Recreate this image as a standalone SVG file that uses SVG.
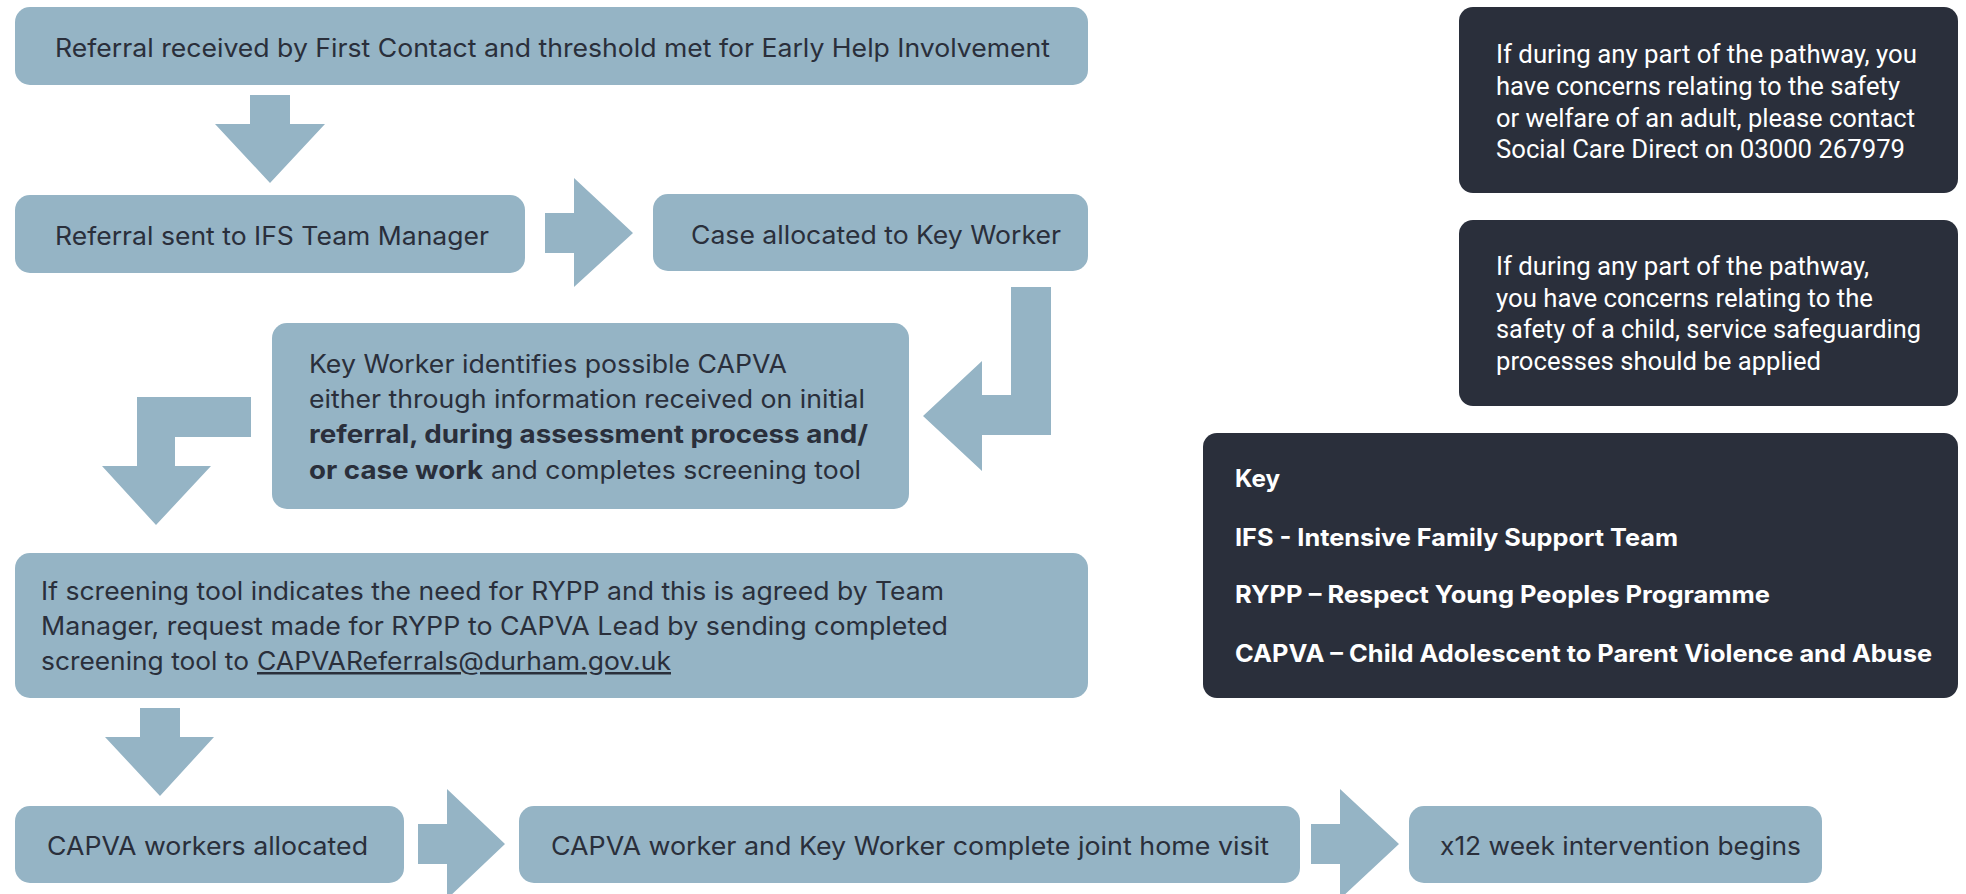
<svg xmlns="http://www.w3.org/2000/svg" width="1966" height="894" viewBox="0 0 1966 894">
  <style>
    .step { fill: #95b4c5; }
    .note { fill: #2a2f3b; }
    .arrow { fill: #95b4c5; }
    .t { font-family: Inter, Roboto, "Liberation Sans", sans-serif; font-size: 25px; fill: #2a2f3b; }
    .tn { font-family: Roboto, "Liberation Sans", sans-serif; font-size: 25px; fill: #ffffff; }
    .tk { font-family: Inter, Roboto, "Liberation Sans", sans-serif; font-size: 24px; font-weight: 700; fill: #ffffff; }
    .b { font-weight: 700; }
    .link { text-decoration: underline; }
  </style>

  <!-- block arrows between steps -->
  <g id="connectors">
    <polygon class="arrow" points="250,95 290,95 290,124 325,124 270,183 215,124 250,124"/>
    <polygon class="arrow" points="545,213 574,213 574,178 633,233 574,287 574,253 545,253"/>
    <polygon class="arrow" points="1011,287 1051,287 1051,435 982,435 982,471 923,416 982,361 982,395 1011,395"/>
    <polygon class="arrow" points="251,397 251,437 175,437 175,466 211,466 156,525 102,466 137,466 137,397"/>
    <polygon class="arrow" points="140,708 180,708 180,737 214,737 160,796 105,737 140,737"/>
    <polygon class="arrow" points="418,824 447,824 447,789 505,844 447,899 447,864 418,864"/>
    <polygon class="arrow" points="1311,824 1340,824 1340,789 1399,844 1340,899 1340,864 1311,864"/>
  </g>

  <g id="referral-received">
    <rect class="step" x="15" y="7" width="1073" height="78" rx="15"/>
    <text class="t" x="55" y="57" textLength="995" lengthAdjust="spacingAndGlyphs">Referral received by First Contact and threshold met for Early Help Involvement</text>
  </g>

  <g id="referral-sent">
    <rect class="step" x="15" y="195" width="510" height="78" rx="15"/>
    <text class="t" x="55" y="245" textLength="434" lengthAdjust="spacingAndGlyphs">Referral sent to IFS Team Manager</text>
  </g>

  <g id="case-allocated">
    <rect class="step" x="653" y="194" width="435" height="77" rx="15"/>
    <text class="t" x="691" y="244" textLength="370" lengthAdjust="spacingAndGlyphs">Case allocated to Key Worker</text>
  </g>

  <g id="key-worker-identifies">
    <rect class="step" x="272" y="323" width="637" height="186" rx="15"/>
    <text class="t" x="309" y="373" textLength="478" lengthAdjust="spacingAndGlyphs">Key Worker identifies possible CAPVA</text>
    <text class="t" x="309" y="408" textLength="556" lengthAdjust="spacingAndGlyphs">either through information received on initial</text>
    <text class="t b" x="309" y="443" textLength="559" lengthAdjust="spacingAndGlyphs">referral, during assessment process and/</text>
    <text class="t b" x="309" y="479" textLength="174" lengthAdjust="spacingAndGlyphs">or case work</text>
    <text class="t" x="491" y="479" textLength="370" lengthAdjust="spacingAndGlyphs">and completes screening tool</text>
  </g>

  <g id="screening-request">
    <rect class="step" x="15" y="553" width="1073" height="145" rx="15"/>
    <text class="t" x="41" y="600" textLength="903" lengthAdjust="spacingAndGlyphs">If screening tool indicates the need for RYPP and this is agreed by Team</text>
    <text class="t" x="41" y="635" textLength="907" lengthAdjust="spacingAndGlyphs">Manager, request made for RYPP to CAPVA Lead by sending completed</text>
    <text class="t" x="41" y="670" textLength="208" lengthAdjust="spacingAndGlyphs">screening tool to</text>
    <text class="t link" x="257" y="670" textLength="414" lengthAdjust="spacingAndGlyphs">CAPVAReferrals@durham.gov.uk</text>
  </g>

  <g id="workers-allocated">
    <rect class="step" x="15" y="806" width="389" height="77" rx="15"/>
    <text class="t" x="47" y="855" textLength="321" lengthAdjust="spacingAndGlyphs">CAPVA workers allocated</text>
  </g>

  <g id="joint-home-visit">
    <rect class="step" x="519" y="806" width="781" height="77" rx="15"/>
    <text class="t" x="551" y="855" textLength="718" lengthAdjust="spacingAndGlyphs">CAPVA worker and Key Worker complete joint home visit</text>
  </g>

  <g id="intervention-begins">
    <rect class="step" x="1409" y="806" width="413" height="77" rx="15"/>
    <text class="t" x="1440" y="855" textLength="361" lengthAdjust="spacingAndGlyphs">x12 week intervention begins</text>
  </g>

  <g id="adult-concerns">
    <rect class="note" x="1459" y="7" width="499" height="186" rx="14"/>
    <text class="tn" x="1496" y="63" textLength="421" lengthAdjust="spacingAndGlyphs">If during any part of the pathway, you</text>
    <text class="tn" x="1496" y="95" textLength="404" lengthAdjust="spacingAndGlyphs">have concerns relating to the safety</text>
    <text class="tn" x="1496" y="127" textLength="419" lengthAdjust="spacingAndGlyphs">or welfare of an adult, please contact</text>
    <text class="tn" x="1496" y="158" textLength="409" lengthAdjust="spacingAndGlyphs">Social Care Direct on 03000 267979</text>
  </g>

  <g id="child-concerns">
    <rect class="note" x="1459" y="220" width="499" height="186" rx="14"/>
    <text class="tn" x="1496" y="275" textLength="373" lengthAdjust="spacingAndGlyphs">If during any part of the pathway,</text>
    <text class="tn" x="1496" y="307" textLength="377" lengthAdjust="spacingAndGlyphs">you have concerns relating to the</text>
    <text class="tn" x="1496" y="338" textLength="425" lengthAdjust="spacingAndGlyphs">safety of a child, service safeguarding</text>
    <text class="tn" x="1496" y="370" textLength="325" lengthAdjust="spacingAndGlyphs">processes should be applied</text>
  </g>

  <g id="key">
    <rect class="note" x="1203" y="433" width="755" height="265" rx="14"/>
    <text class="tk" x="1235" y="487" textLength="45" lengthAdjust="spacingAndGlyphs">Key</text>
    <text class="tk" x="1235" y="546" textLength="443" lengthAdjust="spacingAndGlyphs">IFS - Intensive Family Support Team</text>
    <text class="tk" x="1235" y="603" textLength="535" lengthAdjust="spacingAndGlyphs">RYPP – Respect Young Peoples Programme</text>
    <text class="tk" x="1235" y="662" textLength="697" lengthAdjust="spacingAndGlyphs">CAPVA – Child Adolescent to Parent Violence and Abuse</text>
  </g>
</svg>
